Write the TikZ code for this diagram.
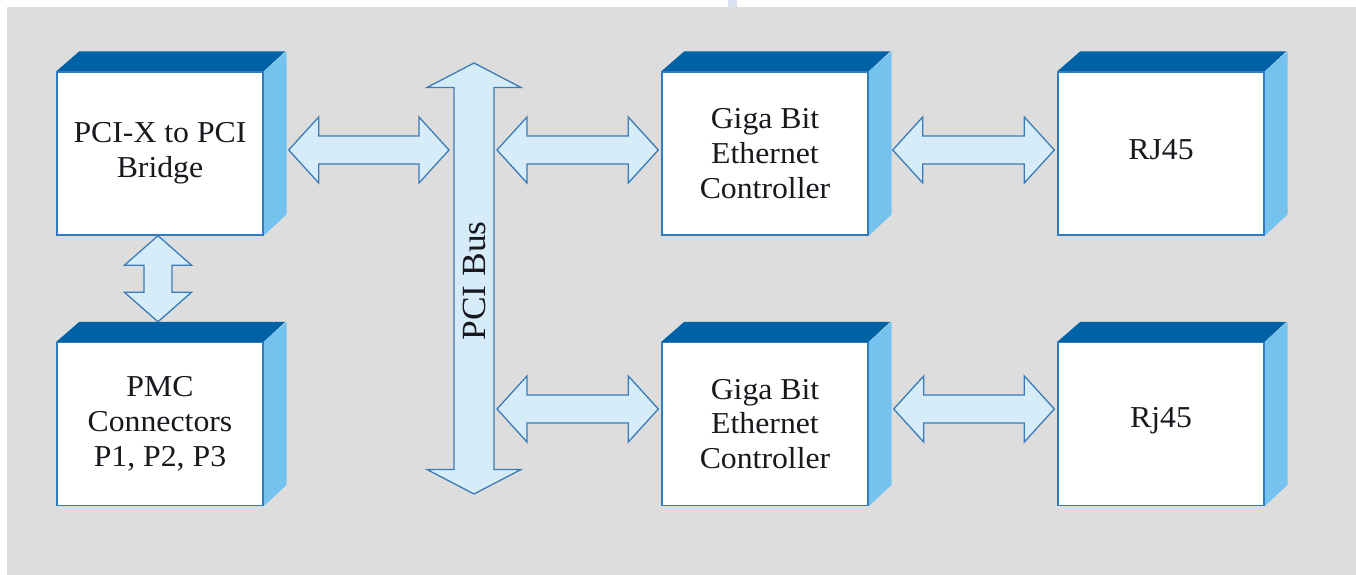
\documentclass[tikz,border=0pt]{standalone}
\usepackage{fontspec}
\setmainfont{Liberation Serif}[FakeStretch=1.045]
\usetikzlibrary{calc,backgrounds}
\definecolor{bgc}{HTML}{DDDDDD}
\definecolor{topc}{HTML}{0062A6}
\definecolor{sidec}{HTML}{74C3EF}
\definecolor{edgec}{HTML}{2F7DC0}
\definecolor{arrfill}{HTML}{D6ECF9}
\definecolor{arredge}{HTML}{3B7BB8}
\definecolor{tickc}{HTML}{D8E4F4}
\definecolor{txtc}{HTML}{18181E}
\newcommand{\hdarrow}[5]{%
  \draw[barrow] let \p1=(#1), \p2=(#2) in
    (\x1,\y1) -- (\x1+#3,\y1+#4) -- (\x1+#3,\y1+#5) -- (\x2-#3,\y1+#5) -- (\x2-#3,\y1+#4)
    -- (\x2,\y1) -- (\x2-#3,\y1-#4) -- (\x2-#3,\y1-#5) -- (\x1+#3,\y1-#5) -- (\x1+#3,\y1-#4) -- cycle;}
\newcommand{\vdarrow}[5]{%
  \draw[barrow] let \p1=(#1), \p2=(#2) in
    (\x1,\y1) -- (\x1+#4,\y1-#3) -- (\x1+#5,\y1-#3) -- (\x1+#5,\y2+#3) -- (\x1+#4,\y2+#3)
    -- (\x1,\y2) -- (\x1-#4,\y2+#3) -- (\x1-#5,\y2+#3) -- (\x1-#5,\y1-#3) -- (\x1-#4,\y1-#3) -- cycle;}
\begin{document}
\begin{tikzpicture}[x=1bp,y=-1bp,
  blk/.style={draw=edgec, line width=1.4bp, fill=white, minimum width=206bp,
    minimum height=163bp, inner sep=0pt, align=center,
    font=\fontsize{30.5}{35}\selectfont, text=txtc},
  barrow/.style={fill=arrfill, draw=arredge, line width=1.3bp, line join=miter},
  topface/.style={fill=topc},
  sideface/.style={fill=sidec},
  bustext/.style={font=\fontsize{34}{40}\selectfont, text=txtc, inner sep=0pt}]
\useasboundingbox (0,0) rectangle (1356,575);

% boxes (front faces)
\node[blk] (b1)  at (160,153.5) {PCI-X to PCI\\Bridge};
\node[blk] (pmc) at (160,424)   {PMC\\Connectors\\P1, P2, P3};
\node[blk] (g1)  at (765,153.5) {Giga Bit\\Ethernet\\Controller};
\node[blk] (g2)  at (765,424)   {Giga Bit\\Ethernet\\Controller};
\node[blk, text depth=7bp] (r1)  at (1161,153.5) {RJ45};
\node[blk, text depth=12.6bp] (r2)  at (1161,424)   {Rj45};

\begin{scope}[on background layer]
  \fill[white] (0,0) rectangle (1356,575);
  \fill[bgc] (7,7) rectangle (1356,575);
  \fill[tickc] (728,0) rectangle (737,7);
  \foreach \n in {b1,pmc,g1,g2,r1,r2}{
    \fill[topface] (\n.north west) -- ++(23,-20) -- ++(206,0) -- (\n.north east) -- cycle;
    \fill[sideface] (\n.north east) -- ++(23,-20) -- ++(0,163) -- (\n.south east) -- cycle;
  }
\end{scope}

% PCI bus
\coordinate (bustop) at (474,63);
\coordinate (busbot) at (474,494);
\vdarrow{bustop}{busbot}{24.5bp}{47bp}{20bp}
\node[bustext, rotate=90, anchor=base] (bus) at (485,281) {PCI Bus};

% connectors
\hdarrow{$(b1.east)+(25,-3.5)$}{$(bustop)+(-25,0)$}{30bp}{33bp}{14bp}
\hdarrow{$(bustop |- g1.west)+(23,-3.5)$}{$(g1.west)+(-3,0)$}{30bp}{33bp}{14bp}
\hdarrow{$(g1.east)+(24,-3.5)$}{$(r1.west)+(-3,0)$}{30bp}{33bp}{14bp}
\hdarrow{$(bustop |- g2.west)+(23,-15)$}{$(g2.west)+(-3,0)$}{30bp}{33bp}{14bp}
\hdarrow{$(g2.east)+(25,-15)$}{$(r2.west)+(-3,0)$}{30bp}{33bp}{14bp}
\vdarrow{$(b1.south)+(-2,0)$}{$(pmc.north)+(-2,-20)$}{29.5bp}{33.5bp}{14bp}
\end{tikzpicture}
\end{document}
